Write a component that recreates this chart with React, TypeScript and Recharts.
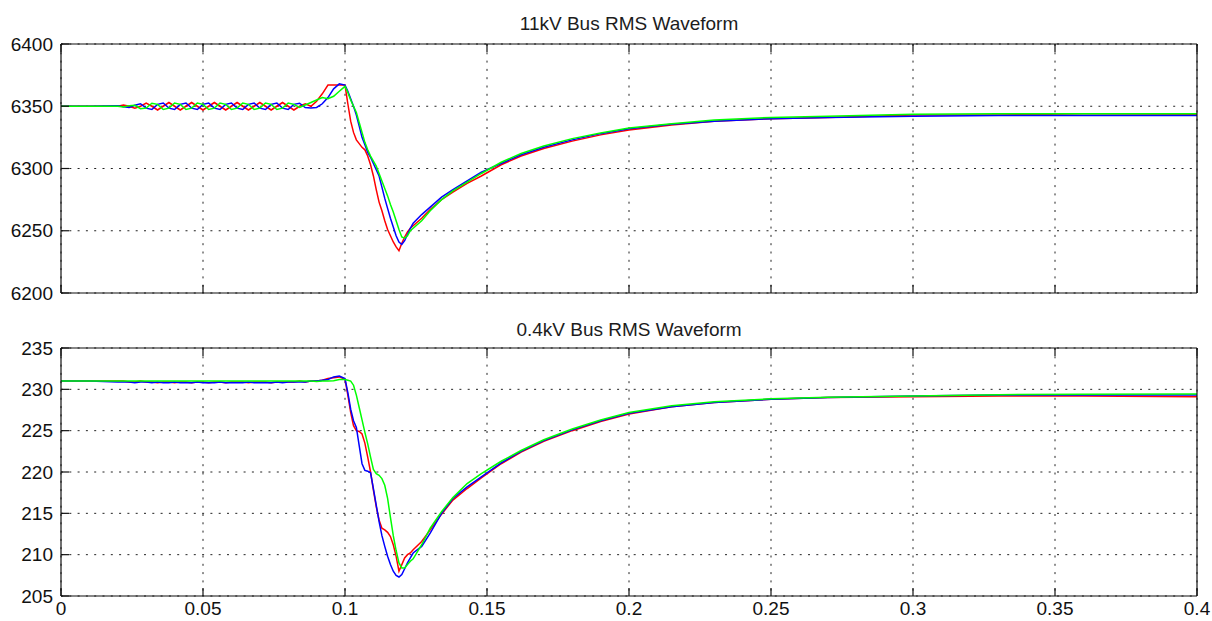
import { LineChart, Line, XAxis, YAxis, CartesianGrid } from "recharts";

// Shared time base (s) for both panels.
const T = [
  0, 0.01,
  0.02, 0.022, 0.024, 0.026, 0.028, 0.03, 0.032, 0.034, 0.036, 0.038,
  0.04, 0.042, 0.044, 0.046, 0.048, 0.05, 0.052, 0.054, 0.056, 0.058,
  0.06, 0.062, 0.064, 0.066, 0.068, 0.07, 0.072, 0.074, 0.076, 0.078,
  0.08, 0.082, 0.084, 0.086, 0.088,
  0.09, 0.092, 0.094, 0.096, 0.098,
  0.1, 0.101, 0.102, 0.103, 0.104, 0.105, 0.106, 0.107, 0.108, 0.109,
  0.11, 0.111, 0.112, 0.113, 0.114, 0.115, 0.116, 0.117, 0.118, 0.119,
  0.12, 0.121, 0.122, 0.123, 0.124,
  0.127, 0.13, 0.134, 0.138, 0.143, 0.148, 0.155, 0.162, 0.17, 0.18,
  0.19, 0.2, 0.215, 0.23, 0.25, 0.27, 0.3, 0.33, 0.36, 0.4,
];

// 11kV bus RMS (V)
const TOP_RED = [
  6350, 6350,
  6350, 6351, 6350, 6348.5, 6350, 6352.5, 6350, 6347,
  6350, 6353, 6350, 6347, 6350, 6353, 6350, 6347,
  6350, 6353, 6350, 6347, 6350, 6353, 6350, 6347,
  6350, 6353, 6350, 6347, 6350, 6353, 6350, 6347,
  6350, 6352, 6350,
  6354, 6360, 6367, 6367, 6367,
  6367, 6352, 6338, 6329, 6323, 6320, 6317, 6315, 6310, 6303,
  6294, 6283, 6273, 6266, 6258, 6251, 6246, 6241, 6237, 6234,
  6240, 6245, 6249, 6252, 6254,
  6260, 6267, 6275, 6281, 6288, 6294, 6303, 6310, 6316, 6322,
  6327, 6331, 6335, 6338, 6340, 6341, 6343, 6343, 6344, 6343.5,
];
const TOP_BLUE = [
  6350, 6350,
  6350.5, 6349.5, 6349, 6350.8, 6352, 6348.5, 6347.4, 6351.5,
  6352.6, 6348.5, 6347.4, 6351.5, 6352.6, 6348.5, 6347.4, 6351.5,
  6352.6, 6348.5, 6347.4, 6351.5, 6352.6, 6348.5, 6347.4, 6351.5,
  6352.6, 6348.5, 6347.4, 6351.5, 6352.6, 6348.5, 6347.4, 6351.5,
  6352.4, 6349, 6348.5,
  6349, 6352, 6357, 6364, 6368,
  6367, 6362, 6356, 6350, 6343, 6334, 6325, 6319, 6313, 6309,
  6304, 6299, 6294, 6285, 6276, 6268, 6260, 6253, 6246, 6241,
  6239, 6242, 6247, 6252, 6256,
  6263, 6269, 6277, 6283, 6290, 6297, 6304, 6311, 6317, 6323,
  6328, 6332, 6335.5, 6338, 6340, 6341, 6342, 6342.5, 6342.5, 6342.5,
];
const TOP_GREEN = [
  6350, 6350,
  6350, 6349.5, 6350.5, 6350.8, 6348, 6348.5, 6352.4, 6351.5,
  6347.4, 6348.5, 6352.6, 6351.5, 6347.4, 6348.5, 6352.6, 6351.5,
  6347.4, 6348.5, 6352.6, 6351.5, 6347.4, 6348.5, 6352.6, 6351.5,
  6347.4, 6348.5, 6352.6, 6351.5, 6347.4, 6348.5, 6352.6, 6351.5,
  6349, 6351, 6353,
  6355, 6357, 6356, 6358, 6362,
  6366, 6361, 6355, 6350, 6345, 6337, 6329, 6321, 6315, 6310,
  6306, 6302, 6296, 6290, 6284, 6278, 6271, 6265, 6258, 6251,
  6245, 6244, 6246, 6250, 6252,
  6258, 6266, 6275, 6282, 6289, 6296, 6305, 6312, 6318, 6324,
  6328.5, 6332.5, 6336, 6339, 6341, 6342, 6343.5, 6344, 6344, 6344,
];

// 0.4kV bus RMS (V)
const BOT_RED = [
  231, 231,
  231, 231, 230.9, 230.9, 231, 230.9, 230.9, 230.8, 230.9, 230.9,
  230.8, 230.9, 230.9, 230.8, 230.9, 230.9, 230.8, 230.9, 230.9, 230.8,
  230.9, 230.9, 230.9, 230.8, 230.9, 230.9, 230.9, 230.8, 230.9, 230.9,
  230.9, 230.9, 231, 230.9, 231,
  231, 231.1, 231.3, 231.4, 231.5,
  231.2, 229.3, 227.2, 225.6, 225.0, 224.9, 224.6, 223.5, 221.8, 220.0,
  217.8, 215.8, 214.2, 213.2, 213.0, 212.7, 212.2, 211.2, 209.8, 208.0,
  208.8, 209.6, 210.0, 210.2, 210.6,
  211.6, 213.0, 214.9, 216.6, 218.0, 219.3, 221.0, 222.4, 223.7, 225.0,
  226.1, 227.0, 227.9, 228.4, 228.8, 229.0, 229.1, 229.2, 229.2, 229.1,
];
const BOT_BLUE = [
  231, 231,
  230.9, 230.9, 230.9, 230.8, 230.9, 230.9, 230.8, 230.9, 230.8, 230.8,
  230.9, 230.8, 230.8, 230.8, 230.9, 230.8, 230.8, 230.8, 230.9, 230.8,
  230.8, 230.8, 230.8, 230.9, 230.8, 230.8, 230.8, 230.8, 230.9, 230.8,
  230.9, 230.9, 230.9, 230.9, 231,
  231, 231.1, 231.2, 231.5, 231.6,
  231.3, 229.6, 227.6, 226.2, 225.4, 223.2, 221.0, 220.2, 220.1, 219.9,
  218.0, 216.0, 214.0, 212.3, 211.0, 209.8, 208.8, 208.0, 207.5, 207.3,
  207.6, 208.3, 209.0, 209.6, 210.2,
  211.0, 212.6, 215.0, 216.8, 218.2, 219.4, 221.1, 222.5, 223.8, 225.1,
  226.2, 227.1, 227.9, 228.4, 228.8, 229.0, 229.2, 229.3, 229.3, 229.3,
];
const BOT_GREEN = [
  231, 231,
  231, 231, 231, 231, 231, 231, 231, 231, 231, 231,
  231, 231, 231, 231, 231, 231, 231, 231, 231, 231,
  231, 231, 231, 231, 231, 231, 231, 231, 231, 231,
  231, 231, 231, 231, 231,
  230.95, 231, 231, 231.05, 231.2,
  231.2, 231.1, 231.0, 230.5, 229.3, 227.8, 226.3, 224.8, 223.4, 221.8,
  220.3, 219.8, 219.6, 219.2, 218.4, 216.8, 214.5, 212.3, 210.5, 209.0,
  208.4, 208.4, 208.8, 209.2, 209.5,
  211.2, 213.2, 215.2, 216.9, 218.6, 219.8, 221.3, 222.6, 223.9, 225.2,
  226.3, 227.2, 228.0, 228.5, 228.85, 229.05, 229.2, 229.35, 229.4, 229.45,
];

const X_TICKS = [0, 0.05, 0.1, 0.15, 0.2, 0.25, 0.3, 0.35, 0.4];
const X_LABELS = ["0", "0.05", "0.1", "0.15", "0.2", "0.25", "0.3", "0.35", "0.4"];
const TOP_Y_TICKS = [6200, 6250, 6300, 6350, 6400];
const BOT_Y_TICKS = [205, 210, 215, 220, 225, 230, 235];

const FONT = "'Liberation Sans', Arial, sans-serif";
const TICK = { fontSize: 19, fill: "#111", fontFamily: FONT };
const AXIS = { stroke: "#111", strokeWidth: 1.2 };
const GRID_DASH = "2 6.3";

const topData = T.map((t, i) => ({ t, red: TOP_RED[i], blue: TOP_BLUE[i], green: TOP_GREEN[i] }));
const botData = T.map((t, i) => ({ t, red: BOT_RED[i], blue: BOT_BLUE[i], green: BOT_GREEN[i] }));

function Panel({
  title,
  data,
  yTicks,
  top,
  height,
  marginTop,
  xAxisHeight,
  showXLabels,
  titleTop,
}: {
  title: string;
  data: any[];
  yTicks: number[];
  top: number;
  height: number;
  marginTop: number;
  xAxisHeight: number;
  showXLabels: boolean;
  titleTop: number;
}) {
  const yDomain = [yTicks[0], yTicks[yTicks.length - 1]];
  return (
    <>
      <div
        style={{
          position: "absolute",
          left: 61,
          width: 1136,
          top: titleTop,
          textAlign: "center",
          fontFamily: FONT,
          fontSize: 19,
          lineHeight: "19px",
          color: "#1c1c1c",
        }}
      >
        {title}
      </div>
      <div style={{ position: "absolute", left: 0, top }}>
        <LineChart
          width={1212}
          height={height}
          data={data}
          margin={{ top: marginTop, right: 14, bottom: 0, left: 0 }}
        >
          <CartesianGrid stroke="#222" strokeDasharray={GRID_DASH} />
          <XAxis
            type="number"
            dataKey="t"
            domain={[0, 0.4]}
            ticks={X_TICKS}
            interval={0}
            height={xAxisHeight}
            tickSize={-8}
            tickMargin={14}
            tick={TICK}
            tickFormatter={(v: number) => (showXLabels ? X_LABELS[X_TICKS.indexOf(v)] ?? String(v) : "")}
            axisLine={AXIS}
            tickLine={AXIS}
          />
          <XAxis
            xAxisId="top"
            orientation="top"
            type="number"
            dataKey="t"
            domain={[0, 0.4]}
            ticks={X_TICKS}
            interval={0}
            height={1}
            tickSize={-8}
            tickFormatter={() => ""}
            axisLine={AXIS}
            tickLine={AXIS}
          />
          <YAxis
            type="number"
            domain={yDomain}
            ticks={yTicks}
            interval={0}
            width={61}
            tickSize={-8}
            tickMargin={16}
            tick={TICK}
            axisLine={AXIS}
            tickLine={AXIS}
          />
          <YAxis
            yAxisId="right"
            orientation="right"
            type="number"
            domain={yDomain}
            ticks={yTicks}
            interval={0}
            width={1}
            tickSize={-8}
            tickFormatter={() => ""}
            axisLine={AXIS}
            tickLine={AXIS}
          />
          <Line type="linear" dataKey="red" stroke="#ff0000" strokeWidth={1.5} dot={false} activeDot={false} isAnimationActive={false} />
          <Line type="linear" dataKey="blue" stroke="#0000ff" strokeWidth={1.5} dot={false} activeDot={false} isAnimationActive={false} />
          <Line type="linear" dataKey="green" stroke="#00ff00" strokeWidth={1.5} dot={false} activeDot={false} isAnimationActive={false} />
        </LineChart>
      </div>
    </>
  );
}

export default function App() {
  return (
    <div
      style={{
        position: "absolute",
        left: 0,
        top: 0,
        width: 1212,
        height: 621,
        background: "#fff",
        overflow: "hidden",
      }}
    >
      <Panel
        title="11kV Bus RMS Waveform"
        data={topData}
        yTicks={TOP_Y_TICKS}
        top={0}
        height={305}
        marginTop={43}
        xAxisHeight={12}
        showXLabels={false}
        titleTop={14}
      />
      <Panel
        title="0.4kV Bus RMS Waveform"
        data={botData}
        yTicks={BOT_Y_TICKS}
        top={305}
        height={316}
        marginTop={42}
        xAxisHeight={25}
        showXLabels={true}
        titleTop={320}
      />
    </div>
  );
}
